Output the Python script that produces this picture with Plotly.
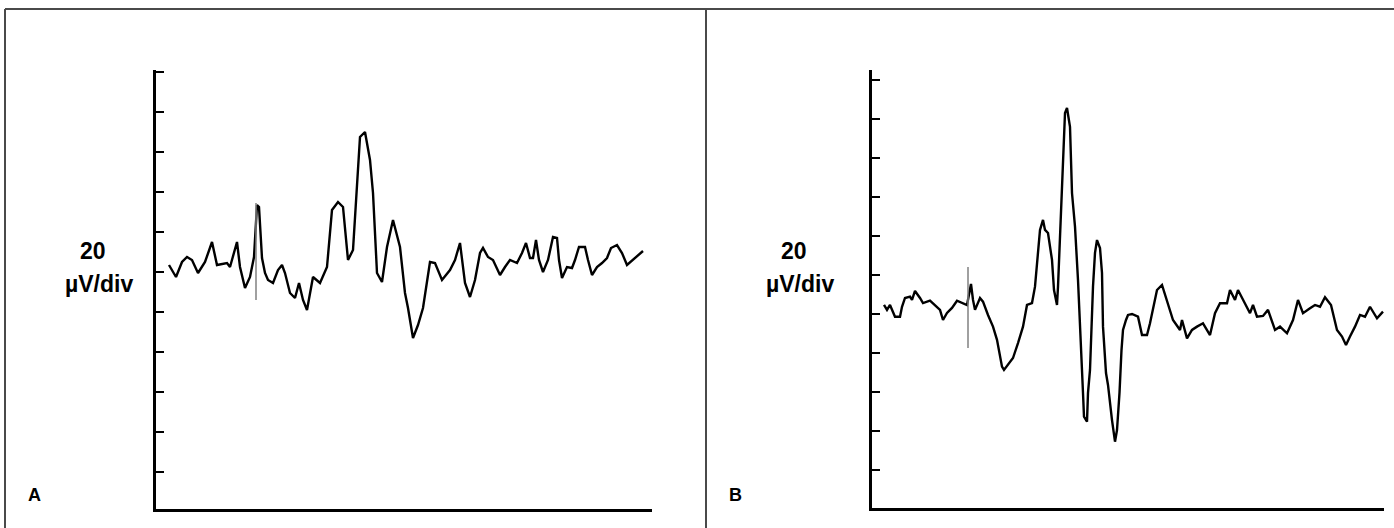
import plotly.graph_objects as go

# ---------------- data (time in ms, amplitude in µV) ----------------
# Panel A trace
a_t = [1.3, 2.0, 2.6, 3.1, 3.6, 4.2, 4.9, 5.6, 6.1, 7.1, 7.4, 8.1, 8.4, 8.9, 9.4, 9.8,
       10.1, 10.3, 10.6, 10.9, 11.2, 11.7, 12.2, 12.6, 12.9, 13.4, 13.9, 14.3, 14.7, 15.1,
       15.7, 16.4, 17.1, 17.6, 18.2, 18.7, 19.2, 19.7, 20.4, 20.9, 21.4, 21.7, 22.1, 22.6,
       23.1, 23.7, 24.4, 24.9, 25.2, 25.7, 26.2, 26.7, 27.4, 27.9, 28.6, 29.4, 29.9, 30.4,
       30.9, 31.4, 31.9, 32.4, 32.7, 33.2, 33.7, 34.4, 34.9, 35.4, 36.1, 36.6, 37.0, 37.4,
       37.7, 38.0, 38.3, 38.7, 39.2, 39.7, 40.1, 40.3, 40.6, 41.1, 41.6, 41.9, 42.3, 42.9,
       43.2, 43.6, 44.1, 44.6, 45.1, 45.5, 46.1, 46.6, 47.1, 47.7, 48.7]
a_v = [3.5, -2.5, 5, 7.5, 6, -0.5, 5, 15, 3.5, 4.5, 2.5, 15, 2.5, -8, -2.5, 7.5,
       33.5, 32.5, 7, -0.5, -4, -5.5, 1, 3.5, -0.5, -10.5, -13, -5.5, -14, -19,
       -2.5, -5.5, 2.5, 31, 35, 32.5, 6, 11, 67.5, 70, 56, 39.5, -0.5, -5,
       12.5, 26, 12.5, -10.5, -18, -33, -26.5, -18, 5, 4.5, -4, 1, 6, 14.5,
       -5.5, -12.5, -4, 9.5, 12, 7.5, 6, -1.5, 2.5, 6, 4.5, 9.5, 14.5, 7,
       7, 16, 6, 0, 6, 17.5, 17, 6, -3, 2.5, 2, 6, 12.5, 12.5,
       6, -1.5, 2.5, 4.5, 7, 12, 13.5, 9.5, 3.5, 6, 10.5]
# Panel A stimulus artifact
a_stim_t = [10.0, 10.0]
a_stim_v = [34.5, -14]

# Panel B trace
b_t = [1.2, 1.5, 1.8, 2.3, 2.8, 3.0, 3.3, 3.8, 4.0, 4.3, 4.8, 5.1, 5.8, 6.3, 6.8, 7.1,
       7.5, 8.0, 8.5, 9.5, 9.9, 10.1, 10.3, 10.8, 11.1, 11.6, 12.1, 12.5, 13.0, 13.2,
       13.6, 14.1, 14.6, 15.1, 15.5, 16.0, 16.3, 16.5, 16.8, 17.1, 17.3, 17.6, 18.0,
       18.2, 18.5, 18.6, 18.8, 19.0, 19.1, 19.3, 19.5, 19.8, 20.0, 20.3, 20.6, 20.8,
       21.1, 21.2, 21.5, 21.6, 21.8, 22.1, 22.3, 22.5, 22.8, 23.0, 23.1, 23.4, 23.6,
       24.0, 24.3, 24.5, 24.75, 24.95, 25.1, 25.4, 25.6, 26.0, 26.6, 27.0, 27.5, 27.8,
       28.1, 28.5, 29.0, 29.5, 30.1, 30.8, 31.0, 31.5, 32.0, 32.5, 33.1, 33.8, 34.3,
       34.8, 35.5, 35.8, 36.3, 36.6, 37.3, 37.8, 38.1, 38.5, 39.1, 39.6, 40.3, 40.8,
       41.5, 42.1, 42.6, 43.1, 43.8, 44.3, 44.8, 45.3, 45.9, 46.5, 47.0, 47.4, 47.8,
       48.3, 48.8, 49.3, 49.8, 50.5, 51.1]
b_v = [4.6, 2.1, 4.6, -1.4, -1.4, 3.7, 8.2, 8.9, 7.2, 11.8, 8.2, 5.6, 6.8, 4.6, 2.1, -3.1,
       0.5, 3.1, 6.8, 4.6, 15.4, 7.2, 2.1, 8.2, 6.3, -0.5, -6.5, -13.3, -27.0, -28.7,
       -26.2, -22.6, -14.9, -6.5, 4.6, 5.6, 14.0, 24.3, 43.1, 48.2, 43.1, 41.5, 27.7,
       12.3, 4.6, 14.0, 37.9, 67.8, 80.7, 103.1, 105.6, 96.0, 62.0, 44.8, 17.4, -9.7,
       -40.5, -52.7, -55.2, -40.5, -28.7, 14.0, 31.3, 37.9, 33.8, 21.0, -6.5, -30.3, -36.4,
       -54.4, -65.5, -59.5, -40.5, -18.5, -8.2, -3.1, -0.5, 0, -1.4, -10.8, -10.8, -4.8,
       2.9, 12.3, 14.9, 6.3, -3.1, -8.2, -3.1, -12.5, -8.2, -6.5, -4.8, -10.8, 0.4,
       5.5, 5.5, 12.3, 7.2, 12.3, 5.5, 0.4, 4.6, -1.4, -1.0, 2.1, -8.2, -6.5,
       -9.9, -3.1, 7.2, 0.4, 2.9, 4.6, 3.7, 8.6, 4.6, -8.2, -11.6, -15.9, -11.6,
       -6.5, -0.5, -1.4, 3.7, -2.2, 1.2]
# Panel B stimulus artifact
b_stim_t = [9.6, 9.6]
b_stim_v = [24.1, -17.4]

panel_letters = ["A", "B"]
scale_value = "20"
scale_unit = "µV/div"

# ---------------- figure ----------------
W, H = 1394, 528
def px(x):
    return x / W
def py(y):
    return (H - y) / H

fig = go.Figure()
trace_style = dict(color="black", width=2.4)
stim_style = dict(color="#808080", width=1.5)

fig.add_trace(go.Scatter(x=a_t, y=a_v, mode="lines", line=trace_style,
                         xaxis="x", yaxis="y", hoverinfo="skip"))
fig.add_trace(go.Scatter(x=a_stim_t, y=a_stim_v, mode="lines", line=stim_style,
                         xaxis="x", yaxis="y", hoverinfo="skip"))
fig.add_trace(go.Scatter(x=b_t, y=b_v, mode="lines", line=trace_style,
                         xaxis="x2", yaxis="y2", hoverinfo="skip"))
fig.add_trace(go.Scatter(x=b_stim_t, y=b_stim_v, mode="lines", line=stim_style,
                         xaxis="x2", yaxis="y2", hoverinfo="skip"))

xax = dict(showgrid=False, zeroline=False, showticklabels=False, ticks="",
           showline=True, linecolor="black", linewidth=2.5)
yax = dict(showgrid=False, zeroline=False, showticklabels=False, ticks="inside",
           ticklen=8, tickwidth=2, tickcolor="black", tick0=0, dtick=20,
           showline=True, linecolor="black", linewidth=2.5)

fig.update_layout(
    width=W, height=H,
    margin=dict(l=0, r=0, t=0, b=0),
    paper_bgcolor="white", plot_bgcolor="white",
    showlegend=False,
    xaxis=dict(xax, domain=[px(156), px(652)], range=[0, 49.6], anchor="y"),
    yaxis=dict(yax, domain=[py(509), py(70)], range=[-118.5, 101], anchor="x"),
    xaxis2=dict(xax, domain=[px(872), px(1384)], range=[0, 51.2], anchor="y2"),
    yaxis2=dict(yax, domain=[py(508), py(70)], range=[-99.5, 125.1], anchor="x2"),
)

# outer frame lines
frame = dict(color="#4a4a4a", width=2)
fig.add_shape(type="line", xref="paper", yref="paper", x0=px(5), x1=1, y0=py(9), y1=py(9), line=frame)
fig.add_shape(type="line", xref="paper", yref="paper", x0=px(5), x1=px(5), y0=0, y1=py(9), line=frame)
fig.add_shape(type="line", xref="paper", yref="paper", x0=px(706), x1=px(706), y0=0, y1=py(9), line=frame)

font_lbl = dict(family="Arial, Liberation Sans, sans-serif", size=23, color="black")
for i, off in enumerate([0, 701]):
    fig.add_annotation(x=px(93 + off), y=py(251), xref="paper", yref="paper",
                       text="<b>" + scale_value + "</b>", showarrow=False,
                       font=font_lbl, xanchor="center", yanchor="middle")
    fig.add_annotation(x=px(99 + off), y=py(284), xref="paper", yref="paper",
                       text="<b>" + scale_unit + "</b>", showarrow=False,
                       font=font_lbl, xanchor="center", yanchor="middle")
    fig.add_annotation(x=px(26 + off), y=py(495), xref="paper", yref="paper",
                       text="<b>" + panel_letters[i] + "</b>", showarrow=False,
                       font=dict(family="Arial, Liberation Sans, sans-serif", size=18, color="black"),
                       xanchor="left", yanchor="middle")

fig.write_html("out.html", config={"displayModeBar": False},
               post_script="document.body.style.margin='0';")
